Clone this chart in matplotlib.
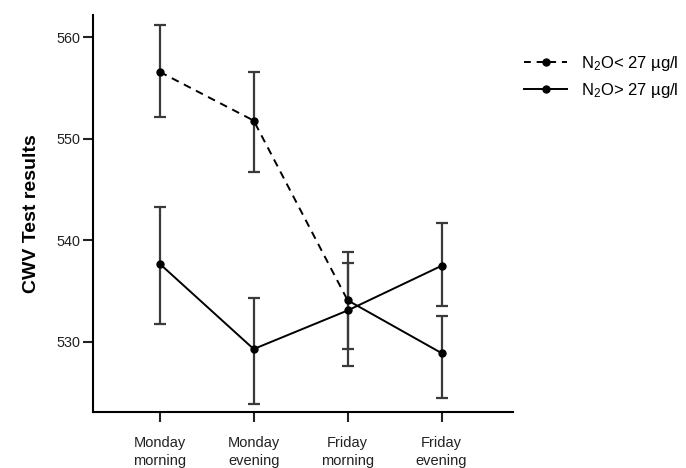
import matplotlib
matplotlib.use("Agg")
import matplotlib.pyplot as plt
import numpy as np
from matplotlib.lines import Line2D

plt.rcParams['font.family'] = ['Liberation Sans', 'DejaVu Sans']
plt.rcParams['mathtext.fontset'] = 'custom'
plt.rcParams['mathtext.rm'] = 'Liberation Sans'
plt.rcParams['mathtext.it'] = 'Liberation Sans'

categories = ["Monday\nmorning", "Monday\nevening", "Friday\nmorning", "Friday\nevening"]
low_mean = [556.6, 551.8, 534.1, 528.9]
low_upper = [561.2, 556.6, 538.9, 532.6]
low_lower = [552.2, 546.7, 529.3, 524.5]
high_mean = [537.7, 529.3, 533.1, 537.5]
high_upper = [543.3, 534.3, 537.8, 541.7]
high_lower = [531.8, 523.9, 527.6, 533.5]
yticks = [530, 540, 550, 560]
legend_labels = [r"N$_\mathrm{2}$O< 27 µg/l", r"N$_\mathrm{2}$O> 27 µg/l"]

fig = plt.figure(figsize=(6.86, 4.68), dpi=100)
ax = fig.add_axes([93/686, 1-412/468, (513-93)/686, (412-15)/468])
x = np.arange(len(categories))

ecol = '#3a3a3a'
for mean, up, lo in [(low_mean, low_upper, low_lower), (high_mean, high_upper, high_lower)]:
    mean = np.array(mean); up = np.array(up); lo = np.array(lo)
    ax.errorbar(x, mean, yerr=[mean - lo, up - mean], fmt='none', ecolor=ecol,
                elinewidth=1.6, capsize=4.3, capthick=1.6, zorder=2)

# dashed series: first three points dashed, last segment solid (as in reference)
ax.plot(x[:3], low_mean[:3], color='black', lw=1.4, ls=(0, (4, 3)), zorder=3)
ax.plot(x[2:], low_mean[2:], color='black', lw=1.4, ls='-', zorder=3)
ax.plot(x, low_mean, 'o', color='black', ms=5, zorder=4)
ax.plot(x, high_mean, '-o', color='black', lw=1.4, ms=5, zorder=4)

ax.set_xlim(-0.71, 3.76)
ax.set_ylim(523.1, 562.2)
ax.set_xticks(x)
ax.set_xticklabels(categories, fontsize=10.5, linespacing=1.3)
ax.set_yticks(yticks)
ax.set_yticklabels([str(t) for t in yticks], fontsize=10.4)
for s in ['top', 'right']:
    ax.spines[s].set_visible(False)
for s in ['left', 'bottom']:
    ax.spines[s].set_linewidth(1.5)
ax.tick_params(axis='y', length=7, width=1.5, pad=2, colors='#222222')
ax.tick_params(axis='x', length=7.5, width=1.5, pad=10, colors='#222222')
ax.set_ylabel("CWV Test results", fontsize=14, fontweight='bold', labelpad=12)

handles = [Line2D([0], [0], color='black', lw=1.4, ls=(0, (3.5, 3)), marker='o', ms=5),
           Line2D([0], [0], color='black', lw=1.4, ls='-', marker='o', ms=5)]
fig.legend(handles, legend_labels, loc='upper left', bbox_to_anchor=(509/686, 1-39/468),
           frameon=False, fontsize=12, handlelength=2.6, labelspacing=0.5, handletextpad=0.8)

fig.savefig("out.png", dpi=100)
